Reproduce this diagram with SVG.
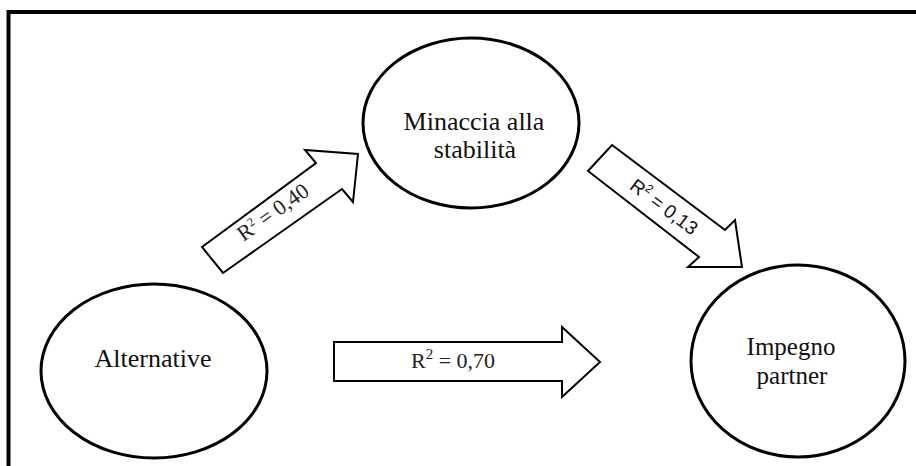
<svg xmlns="http://www.w3.org/2000/svg" width="916" height="466" viewBox="0 0 916 466">
<style>
.node{fill:#fff;stroke:#000;stroke-width:3}
.arrow{fill:#fff;stroke:#000;stroke-width:2;stroke-linejoin:miter}
.lbl{font-family:"Liberation Serif","Times New Roman",serif;font-size:26px;fill:#111;text-anchor:middle}
.al{font-family:"Liberation Serif","Times New Roman",serif;font-size:22px;fill:#222;text-anchor:middle}
.als{font-family:"Liberation Sans",Arial,sans-serif;font-size:19px;fill:#111;text-anchor:middle}
</style>
<rect width="916" height="466" fill="#fff"/>
<path d="M8.5 466 V12 H916" fill="none" stroke="#000" stroke-width="4"/>
<g id="connectors">
<g id="arrow-alt-min">
<polygon class="arrow" points="202,247 316,163 305,150 358,154 353,202 342,189 223,273"/>
<text class="al" font-size="21" transform="translate(277,218) rotate(-35.5)">R<tspan font-size="12" dy="-8">2</tspan><tspan dy="8"> = 0,40</tspan></text>
</g>
<g id="arrow-min-imp">
<polygon class="arrow" points="612,145 725,230 735,220 742,267 688,267 699,257 588,171"/>
<text class="als" transform="translate(660,212) rotate(37)">R<tspan font-size="12" dy="-8">2</tspan><tspan dy="8"> = 0,13</tspan></text>
</g>
<g id="arrow-alt-imp">
<polygon class="arrow" points="334,342 562,342 562,327 600,362 562,397 562,381 334,381"/>
<text class="al" x="453" y="368" font-size="25">R<tspan font-size="15" dy="-9">2</tspan><tspan dy="9"> = 0,70</tspan></text>
</g>
</g>
<g id="node-minaccia">
<ellipse class="node" cx="471" cy="123" rx="108" ry="85"/>
<text class="lbl" x="474" y="130">Minaccia alla</text>
<text class="lbl" x="475" y="158">stabilità</text>
</g>
<g id="node-alternative">
<ellipse class="node" cx="154" cy="371" rx="113" ry="87"/>
<text class="lbl" x="153" y="367">Alternative</text>
</g>
<g id="node-impegno">
<ellipse class="node" cx="798" cy="361" rx="107" ry="96"/>
<text class="lbl" style="font-size:25px" x="791" y="355">Impegno</text>
<text class="lbl" style="font-size:25px" x="792" y="384">partner</text>
</g>
</svg>
